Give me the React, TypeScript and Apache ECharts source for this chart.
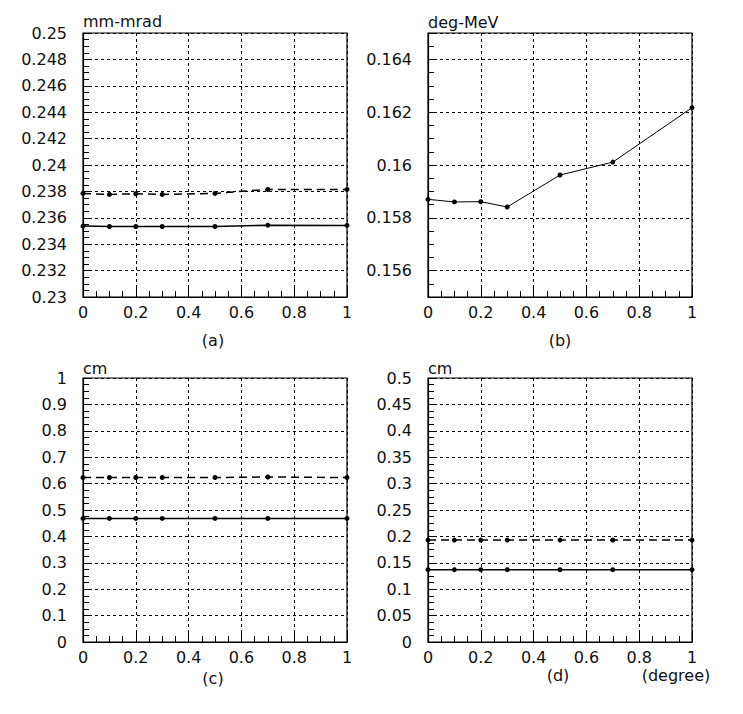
import React, { useEffect, useRef } from "react";
import * as echarts from "echarts";

// x positions (degree)
const xValues = [0, 0.1, 0.2, 0.3, 0.5, 0.7, 1.0];

// (a) emittance, mm-mrad
const aDashed = [0.23785, 0.23777, 0.23782, 0.23777, 0.23785, 0.23815, 0.23815];
const aSolid = [0.23537, 0.23534, 0.23534, 0.23534, 0.23534, 0.23544, 0.23542];

// (b) deg-MeV
const bSolid = [0.1587, 0.1586, 0.15861, 0.15841, 0.15962, 0.16011, 0.16217];

// (c) cm
const cDashed = [0.623, 0.623, 0.623, 0.623, 0.623, 0.625, 0.623];
const cSolid = [0.468, 0.468, 0.468, 0.468, 0.468, 0.468, 0.468];

// (d) cm
const dDashed = [0.193, 0.193, 0.193, 0.193, 0.193, 0.193, 0.193];
const dSolid = [0.137, 0.137, 0.137, 0.137, 0.137, 0.137, 0.137];

const units = ["mm-mrad", "deg-MeV", "cm", "cm"];
const panelLabels = ["(a)", "(b)", "(c)", "(d)"];
const xUnit = "(degree)";

const FONT = "DejaVu Sans";

const pairs = (ys: number[]) => xValues.map((x, i) => [x, ys[i]]);

export default function App() {
  const ref = useRef<HTMLDivElement>(null);
  useEffect(() => {
    document.body.style.margin = "0";
    const chart = echarts.init(ref.current!, null, { renderer: "svg" });

    const grids = [
      { left: 83, top: 33, width: 264, height: 264 },
      { left: 428, top: 33, width: 264, height: 264 },
      { left: 83, top: 378, width: 264, height: 264 },
      { left: 428, top: 378, width: 264, height: 264 },
    ].map((g) => ({ ...g, show: true, borderColor: "#000", borderWidth: 1.2, backgroundColor: "transparent" }));

    const gridLine = { show: true, lineStyle: { color: "#000", type: [3, 3], width: 1 } };
    const labelStyle = { color: "#111", fontFamily: FONT, fontSize: 16 };

    const xAxes = [0, 1, 2, 3].map((g) => ({
      type: "value",
      gridIndex: g,
      min: 0,
      max: 1,
      interval: 0.2,
      axisLine: { show: true, lineStyle: { color: "#000", width: 1.2 } },
      axisTick: { show: true, inside: true, length: 9, lineStyle: { color: "#000" } },
      minorTick: { show: true, splitNumber: 4, length: 6, lineStyle: { color: "#000" } },
      splitLine: gridLine,
      axisLabel: { ...labelStyle, margin: 7, formatter: (v: number) => String(+v.toFixed(2)) },
    }));

    const yBase = (g: number) => ({
      type: "value",
      gridIndex: g,
      position: "left",
      axisLine: { show: true, lineStyle: { color: "#000", width: 1.2 } },
      axisTick: { show: true, inside: true, length: 9, lineStyle: { color: "#000" } },
      minorTick: { show: true, splitNumber: 4, length: 6, lineStyle: { color: "#000" } },
      splitLine: gridLine,
    });

    const yAxes: any[] = [
      {
        ...yBase(0),
        min: 0.23,
        max: 0.25,
        interval: 0.002,
        axisLabel: { ...labelStyle, margin: 16, formatter: (v: number) => String(+v.toFixed(3)) },
      },
      {
        ...yBase(1),
        min: 0.155,
        max: 0.165,
        splitNumber: 5,
        axisTick: { show: false },
        minorTick: { show: false },
        axisLabel: {
          ...labelStyle,
          margin: 16,
          formatter: (v: number) =>
            Math.abs(v * 500 - Math.round(v * 500)) < 1e-6 ? String(+v.toFixed(3)) : "",
        },
      },
      {
        ...yBase(2),
        min: 0,
        max: 1,
        interval: 0.1,
        axisLabel: { ...labelStyle, margin: 16, formatter: (v: number) => String(+v.toFixed(1)) },
      },
      {
        ...yBase(3),
        min: 0,
        max: 0.5,
        interval: 0.05,
        axisLabel: { ...labelStyle, margin: 16, formatter: (v: number) => String(+v.toFixed(2)) },
      },
      // tick-only axis for panel (b)
      {
        type: "value",
        gridIndex: 1,
        position: "left",
        min: 0.155,
        max: 0.165,
        interval: 0.0005,
        axisLine: { show: false },
        axisTick: { show: true, inside: true, length: 6, lineStyle: { color: "#000" } },
        axisLabel: { show: false },
        splitLine: { show: false },
      },
    ];

    const mk = (g: number, data: number[], dashed: boolean, width = 1.5) => ({
      type: "line",
      xAxisIndex: g,
      yAxisIndex: g,
      data: pairs(data),
      symbol: "circle",
      symbolSize: 5,
      itemStyle: { color: "#000" },
      lineStyle: { color: "#000", width, type: dashed ? [8, 5] : "solid" },
      silent: true,
    });

    const series = [
      mk(0, aDashed, true),
      mk(0, aSolid, false),
      mk(1, bSolid, false, 1),
      mk(2, cDashed, true),
      mk(2, cSolid, false),
      mk(3, dDashed, true),
      mk(3, dSolid, false),
    ];

    const txt = (text: string, x: number, y: number, align = "left") => ({
      type: "text",
      x,
      y,
      style: { text, fill: "#111", font: `16px "${FONT}"`, textAlign: align, textVerticalAlign: "middle" },
    });

    const graphic = [
      txt(units[0], 83, 21),
      txt(units[1], 428, 22),
      txt(units[2], 83, 368),
      txt(units[3], 428, 368),
      txt(panelLabels[0], 213, 340, "center"),
      txt(panelLabels[1], 560, 340, "center"),
      txt(panelLabels[2], 213, 678, "center"),
      txt(panelLabels[3], 558, 675, "center"),
      txt(xUnit, 676, 675, "center"),
    ];

    chart.setOption({
      animation: false,
      backgroundColor: "#fff",
      grid: grids,
      xAxis: xAxes,
      yAxis: yAxes,
      series,
      graphic,
    });
    return () => chart.dispose();
  }, []);
  return <div ref={ref} style={{ width: 743, height: 714 }} />;
}
